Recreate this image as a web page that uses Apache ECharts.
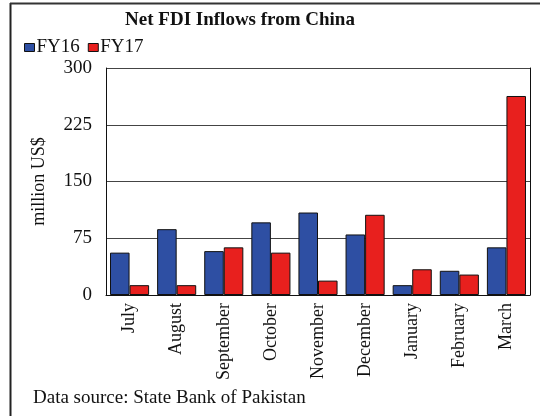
<!DOCTYPE html>
<html>
<head>
<meta charset="utf-8">
<script src="https://cdn.jsdelivr.net/npm/echarts@6/dist/echarts.min.js"></script>
<style>
  html, body { margin: 0; padding: 0; background: #fff; }
  #chart { width: 540px; height: 416px; }
</style>
</head>
<body>
<div id="chart"></div>
<script>
// Monthly net FDI inflows from China, million US$
const months = ['July', 'August', 'September', 'October', 'November', 'December', 'January', 'February', 'March'];
const fy16 = [56, 87, 58, 96, 109, 80, 13, 32, 63];
const fy17 = [13, 13, 63, 56, 19, 106, 34, 27, 263];
const yTicks = { min: 0, max: 300, step: 75 };

const serif = '"Liberation Serif", "Times New Roman", serif';
const chart = echarts.init(document.getElementById('chart'));

chart.setOption({
  animation: false,
  backgroundColor: '#fff',
  title: {
    text: 'Net FDI Inflows from China',
    left: 235, top: 6, textAlign: 'center',
    textStyle: { fontFamily: serif, fontSize: 19, fontWeight: 'bold', color: '#111' }
  },
  legend: {
    left: 19, top: 33,
    itemWidth: 10, itemHeight: 8, itemGap: 8,
    icon: 'rect',
    textStyle: { fontFamily: serif, fontSize: 19, color: '#111', padding: [0, 0, 0, -3] },
    data: [
      { name: 'FY16', itemStyle: { borderColor: '#111', borderWidth: 1 } },
      { name: 'FY17', itemStyle: { borderColor: '#111', borderWidth: 1 } }
    ]
  },
  grid: { left: 106, right: 10, top: 68, bottom: 121 },
  xAxis: {
    type: 'category',
    data: months,
    axisLine: { lineStyle: { color: '#111', width: 1 } },
    axisTick: { show: false },
    axisLabel: {
      rotate: 90, interval: 0, margin: 8,
      fontFamily: serif, fontSize: 18, color: '#111'
    }
  },
  yAxis: [{
    type: 'value',
    min: yTicks.min, max: yTicks.max, interval: yTicks.step,
    name: 'million US$', nameLocation: 'middle', nameRotate: 90, nameGap: 58,
    nameTextStyle: { fontFamily: serif, fontSize: 18, color: '#111' },
    axisLine: { show: true, lineStyle: { color: '#111' } },
    axisTick: { show: false },
    axisLabel: { margin: 14, fontFamily: serif, fontSize: 19, color: '#111' },
    splitLine: { lineStyle: { color: '#444', width: 1 } }
  }, {
    type: 'value',
    position: 'right',
    min: yTicks.min, max: yTicks.max, interval: yTicks.step,
    axisLine: { show: true, lineStyle: { color: '#111' } },
    axisTick: { show: false },
    axisLabel: { show: false },
    splitLine: { show: false }
  }],
  series: [{
    name: 'FY16', type: 'bar', data: fy16,
    barGap: '0%', barCategoryGap: '17%',
    itemStyle: { color: '#2e4fa3', borderColor: '#111', borderWidth: 1 }
  }, {
    name: 'FY17', type: 'bar', data: fy17,
    itemStyle: { color: '#e8201e', borderColor: '#111', borderWidth: 1 }
  }],
  graphic: [
    { type: 'line', shape: { x1: 10.5, y1: 3, x2: 10.5, y2: 416 }, style: { stroke: '#222', lineWidth: 2 } },
    { type: 'line', shape: { x1: 10, y1: 3.5, x2: 540, y2: 3.5 }, style: { stroke: '#333', lineWidth: 2 } },
    {
      type: 'text', left: 33, top: 389,
      style: { text: 'Data source: State Bank of Pakistan', font: '19px ' + serif, fill: '#111' }
    }
  ]
});
</script>
</body>
</html>
